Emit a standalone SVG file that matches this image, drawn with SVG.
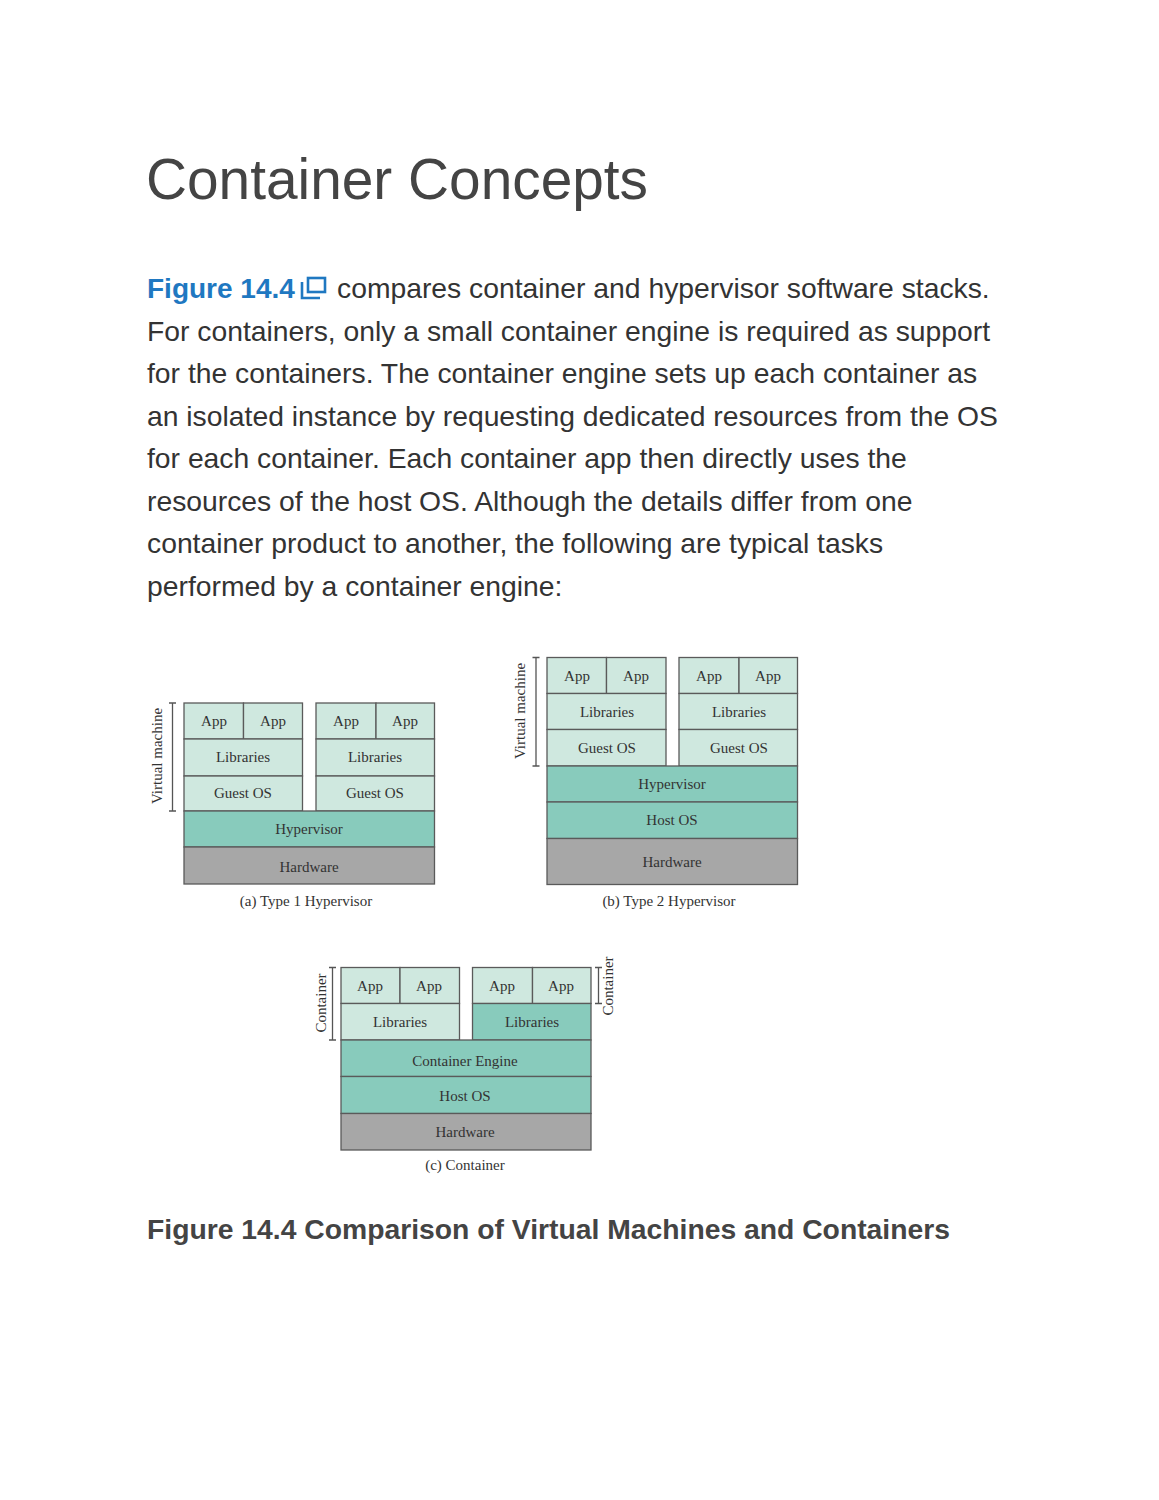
<svg xmlns="http://www.w3.org/2000/svg" width="1159" height="1500" viewBox="0 0 1159 1500">
<style>
.title{font-family:"Liberation Sans",Arial,sans-serif;font-size:56.8px;fill:#444}
.p{font-family:"Liberation Sans",Arial,sans-serif;font-size:28.3px;fill:#333}
.link{font-family:"Liberation Sans",Arial,sans-serif;font-size:28px;font-weight:bold;fill:#1f78c1}
.cap{font-family:"Liberation Sans",Arial,sans-serif;font-size:28.3px;font-weight:bold;fill:#444}
.l{fill:#cfe8df;stroke:#5a5a5a;stroke-width:1.3}
.m{fill:#88cbbc;stroke:#5a5a5a;stroke-width:1.3}
.h{fill:#a7a7a7;stroke:#5a5a5a;stroke-width:1.3}
.t{font-family:"Liberation Serif","Times New Roman",serif;font-size:15px;fill:#333;text-anchor:middle}
.c{font-family:"Liberation Serif","Times New Roman",serif;font-size:15px;fill:#333;text-anchor:middle}
.br{stroke:#555;stroke-width:1.3;fill:none}
</style>
<rect width="1159" height="1500" fill="#ffffff"/>
<text class="title" x="146" y="199">Container Concepts</text>
<g id="para">
<text class="link" x="147" y="298">Figure 14.4</text>
<g fill="none" stroke="#1f78c1" stroke-width="2.6">
<rect x="308" y="278" width="17" height="14"/>
<polyline points="302,282 302,298 320,298"/>
</g>
<text class="p" x="337" y="298">compares container and hypervisor software stacks.</text>
<text class="p" x="147" y="341">For containers, only a small container engine is required as support</text>
<text class="p" x="147" y="383">for the containers. The container engine sets up each container as</text>
<text class="p" x="147" y="426">an isolated instance by requesting dedicated resources from the OS</text>
<text class="p" x="147" y="468">for each container. Each container app then directly uses the</text>
<text class="p" x="147" y="511">resources of the host OS. Although the details differ from one</text>
<text class="p" x="147" y="553">container product to another, the following are typical tasks</text>
<text class="p" x="147" y="596">performed by a container engine:</text>
</g>
<!-- (a) -->
<g id="diagA">
<rect class="l" x="184" y="703" width="59.5" height="36"/>
<rect class="l" x="243.5" y="703" width="59" height="36"/>
<rect class="l" x="184" y="739" width="118.5" height="37"/>
<rect class="l" x="184" y="776" width="118.5" height="35"/>
<rect class="l" x="316" y="703" width="60" height="36"/>
<rect class="l" x="376" y="703" width="58.5" height="36"/>
<rect class="l" x="316" y="739" width="118.5" height="37"/>
<rect class="l" x="316" y="776" width="118.5" height="35"/>
<rect class="m" x="184" y="811" width="250.5" height="36"/>
<rect class="h" x="184" y="847" width="250.5" height="37"/>
<text class="t" x="214" y="726">App</text>
<text class="t" x="273" y="726">App</text>
<text class="t" x="346" y="726">App</text>
<text class="t" x="405" y="726">App</text>
<text class="t" x="243" y="762">Libraries</text>
<text class="t" x="375" y="762">Libraries</text>
<text class="t" x="243" y="798">Guest OS</text>
<text class="t" x="375" y="798">Guest OS</text>
<text class="t" x="309" y="834">Hypervisor</text>
<text class="t" x="309" y="872">Hardware</text>
<path class="br" d="M169,703 H176 M172.5,703 V811 M169,811 H176"/>
<text class="t" transform="translate(162,756) rotate(-90)">Virtual machine</text>
<text class="c" x="306" y="906">(a) Type 1 Hypervisor</text>
</g>
<!-- (b) -->
<g id="diagB">
<rect class="l" x="547" y="657.5" width="59.5" height="36"/>
<rect class="l" x="606.5" y="657.5" width="59.5" height="36"/>
<rect class="l" x="547" y="693.5" width="119" height="36"/>
<rect class="l" x="547" y="729.5" width="119" height="36.5"/>
<rect class="l" x="679" y="657.5" width="60" height="36"/>
<rect class="l" x="739" y="657.5" width="58.5" height="36"/>
<rect class="l" x="679" y="693.5" width="118.5" height="36"/>
<rect class="l" x="679" y="729.5" width="118.5" height="36.5"/>
<rect class="m" x="547" y="766" width="250.5" height="36"/>
<rect class="m" x="547" y="802" width="250.5" height="36.5"/>
<rect class="h" x="547" y="838.5" width="250.5" height="46"/>
<text class="t" x="577" y="681">App</text>
<text class="t" x="636" y="681">App</text>
<text class="t" x="709" y="681">App</text>
<text class="t" x="768" y="681">App</text>
<text class="t" x="607" y="717">Libraries</text>
<text class="t" x="739" y="717">Libraries</text>
<text class="t" x="607" y="753">Guest OS</text>
<text class="t" x="739" y="753">Guest OS</text>
<text class="t" x="672" y="789">Hypervisor</text>
<text class="t" x="672" y="825">Host OS</text>
<text class="t" x="672" y="867">Hardware</text>
<path class="br" d="M532.5,657.5 H539.5 M536,657.5 V766 M532.5,766 H539.5"/>
<text class="t" transform="translate(525,711) rotate(-90)">Virtual machine</text>
<text class="c" x="669" y="906">(b) Type 2 Hypervisor</text>
</g>
<!-- (c) -->
<g id="diagC">
<rect class="l" x="341" y="967.5" width="59" height="36"/>
<rect class="l" x="400" y="967.5" width="59.5" height="36"/>
<rect class="l" x="341" y="1003.5" width="118.5" height="36.5"/>
<rect class="l" x="472.5" y="967.5" width="60" height="36"/>
<rect class="l" x="532.5" y="967.5" width="58.5" height="36"/>
<rect class="m" x="472.5" y="1003.5" width="118.5" height="36.5"/>
<rect class="m" x="341" y="1040" width="250" height="36.5"/>
<rect class="m" x="341" y="1076.5" width="250" height="37"/>
<rect class="h" x="341" y="1113.5" width="250" height="36.5"/>
<text class="t" x="370" y="991">App</text>
<text class="t" x="429" y="991">App</text>
<text class="t" x="502" y="991">App</text>
<text class="t" x="561" y="991">App</text>
<text class="t" x="400" y="1027">Libraries</text>
<text class="t" x="532" y="1027">Libraries</text>
<text class="t" x="465" y="1066">Container Engine</text>
<text class="t" x="465" y="1101">Host OS</text>
<text class="t" x="465" y="1137">Hardware</text>
<path class="br" d="M329,967.5 H336 M332.5,967.5 V1040 M329,1040 H336"/>
<text class="t" transform="translate(326,1003) rotate(-90)">Container</text>
<path class="br" d="M595,967.5 H602 M598.5,967.5 V1003.5 M595,1003.5 H602"/>
<text class="t" transform="translate(613,986) rotate(-90)">Container</text>
<text class="c" x="465" y="1170">(c) Container</text>
</g>
<text class="cap" x="147" y="1239">Figure 14.4 Comparison of Virtual Machines and Containers</text>
</svg>
